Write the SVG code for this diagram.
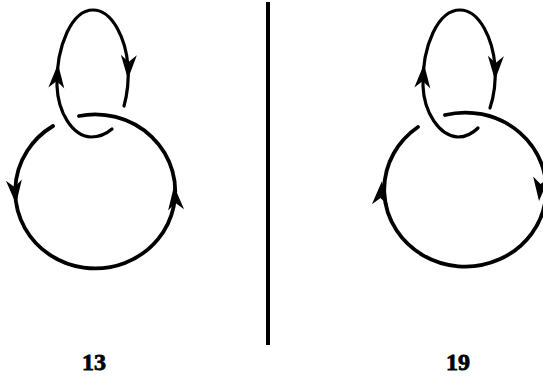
<svg xmlns="http://www.w3.org/2000/svg" width="543" height="377" viewBox="0 0 543 377">
<style>
.c{fill:none;stroke:#000;stroke-linecap:round}
.s{stroke-width:3.2}
.b{stroke-width:3.8}
.lbl{font-family:"Liberation Serif","DejaVu Serif",serif;font-weight:bold;font-size:24px;fill:#000;stroke:#000;stroke-width:0.8;text-anchor:middle}
</style>
<defs>
<polygon id="ah" points="0,0 -24,-8 -17,0 -24,8" fill="#000"/>
</defs>
<rect width="543" height="377" fill="#fff"/>
<g id="connectors">
<g id="fig18-small">
<path class="c s" d="M112,129 C105,135 98,137 91,137 C72,136 58,112 57,86 C56,46 72,10 93,10 C113,10 126,40 128,66 C129,82 127,95 124,106"/>
<use href="#ah" transform="translate(58,64) rotate(-86)"/>
<use href="#ah" transform="translate(128,79) rotate(92)"/>
</g>
<g id="fig18-big">
<path class="c b" d="M79,116 A80,77 0 1 1 53,126"/>
<use href="#ah" transform="translate(16,204) rotate(85)"/>
<use href="#ah" transform="translate(174,186) rotate(-95)"/>
</g>
<g id="fig19-small">
<path class="c s" d="M478,128 C471,135 464,137 458,137 C439,136 424,112 423,86 C422,46 438,10 460,10 C480,10 493,40 495,66 C496,82 494,96 490,108"/>
<use href="#ah" transform="translate(424,64) rotate(-86)"/>
<use href="#ah" transform="translate(495,80) rotate(92)"/>
</g>
<g id="fig19-big">
<path class="c b" d="M445,115 A81,77 0 1 1 418,127"/>
<use href="#ah" transform="translate(382,181) rotate(-85)"/>
<use href="#ah" transform="translate(539,201) rotate(95)"/>
</g>
</g>
<g id="divider">
<line x1="268" y1="2" x2="268" y2="345" stroke="#000" stroke-width="4"/>
</g>
<g id="label-13"><text class="lbl" x="94" y="370">13</text></g>
<g id="label-19"><text class="lbl" x="458" y="370">19</text></g>
</svg>
